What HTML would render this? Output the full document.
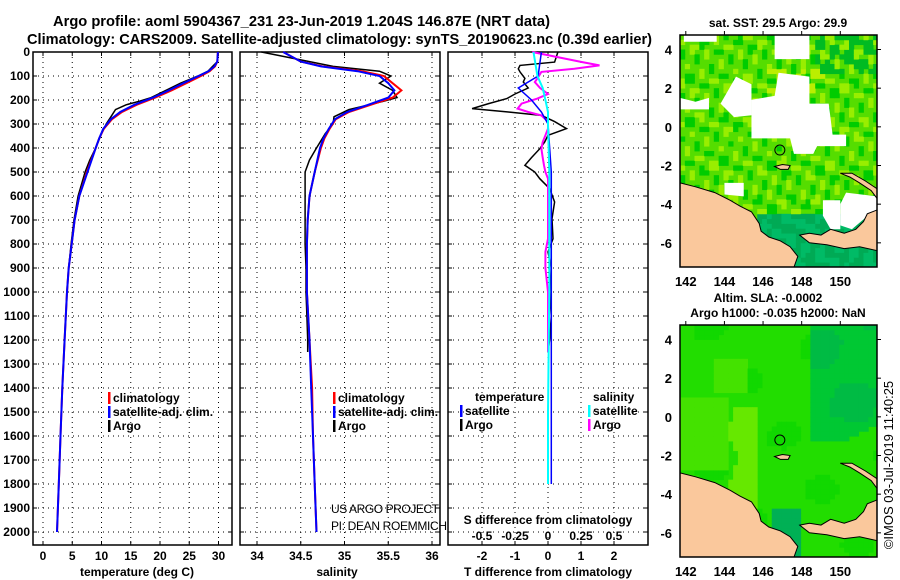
<!DOCTYPE html>
<html><head><meta charset="utf-8"><style>
body{margin:0;background:#fff;width:900px;height:580px;overflow:hidden}
svg{display:block;font-family:"Liberation Sans",sans-serif}
.t{font-weight:bold;font-size:12px}
.n{font-weight:normal;font-size:12px}
</style></head><body>
<svg id="s" width="900" height="580" viewBox="0 0 900 580">
<text x="53" y="26" class="t" style="font-size:15px" textLength="497" lengthAdjust="spacingAndGlyphs">Argo profile: aoml 5904367_231 23-Jun-2019 1.204S 146.87E (NRT data)</text>
<text x="27" y="44" class="t" style="font-size:15px" textLength="625" lengthAdjust="spacingAndGlyphs">Climatology: CARS2009. Satellite-adjusted climatology: synTS_20190623.nc (0.39d earlier)</text>
<g id="plots"></g>
<g id="maps"></g>
<text transform="translate(893,465) rotate(-90)" text-anchor="middle" style="font-size:13px">©IMOS 03-Jul-2019 11:40:25</text>
</svg>
<script>
// ---- data ----
const depthTicks=[0,100,200,300,400,500,600,700,800,900,1000,1100,1200,1300,1400,1500,1600,1700,1800,1900,2000];
const tempTicks=[0,5,10,15,20,25,30];
const salTicks=[34,34.5,35,35.5,36];
const tdiffTicks=[-2,-1,0,1,2];
const sdiffTicks=[-0.5,-0.25,0,0.25,0.5];
const sdiffTickLabels=["-0.5","-0.25","0","0.25","0.5"];
const argoDepth=[0,40,60,80,100,130,160,190,205,220,240,270,300,340,400,450,500,600,700,800,900,1000,1100,1200,1250];
const argoTemp=[29.9,29.8,29.0,28.2,26.5,23.5,21.0,18.5,16.5,14.2,12.4,11.6,10.8,10.0,9.0,8.0,7.2,6.0,5.3,4.8,4.4,4.1,3.9,3.7,3.6];
const argoSal=[34.05,34.6,34.87,35.4,35.53,35.4,35.55,35.6,35.45,35.28,35.05,34.88,34.87,34.78,34.68,34.6,34.55,34.55,34.55,34.55,34.56,34.56,34.57,34.58,34.58];
const climDepth=[0,40,60,80,100,130,160,190,220,250,280,320,360,400,500,600,700,800,900,1000,1200,1400,1600,1800,2000];
const climTemp=[29.9,29.8,29.4,28.5,27.0,24.5,22.0,19.2,16.0,13.5,11.8,10.4,9.6,9.0,7.5,6.2,5.4,4.9,4.4,4.1,3.7,3.3,3.0,2.7,2.4];
const satTemp=[29.9,29.8,29.3,28.3,26.6,24.0,21.5,18.8,15.6,13.2,11.6,10.3,9.6,9.0,7.6,6.2,5.4,4.9,4.4,4.1,3.7,3.3,3.0,2.7,2.4];
const climSal=[34.3,34.5,34.75,35.2,35.45,35.55,35.65,35.55,35.3,35.05,34.9,34.83,34.77,34.73,34.66,34.6,34.58,34.57,34.57,34.57,34.6,34.63,34.64,34.66,34.68];
const satSal=[34.3,34.5,34.73,35.15,35.4,35.5,35.57,35.5,35.27,35.03,34.89,34.82,34.76,34.72,34.66,34.6,34.58,34.57,34.57,34.57,34.6,34.62,34.64,34.66,34.68];
const dDepth=[0,42,56,70,83,110,125,150,175,194,215,236,250,264,290,319,347,375,403,440,472,500,528,569,625,694,778,833,900,1000,1100,1200,1250];
const tdArgo=[0.3,0.2,-0.85,-0.9,-0.85,-0.7,-0.75,-0.6,-1.0,-1.25,-1.8,-2.3,-1.2,-0.2,0.2,0.56,0.0,-0.1,-0.25,-0.5,-0.7,-0.4,-0.25,0.05,0.2,0.12,0.15,0.0,0.1,0.05,0.1,0.05,0.0];
const sdArgo=[-0.12,0.26,0.39,0.2,-0.05,-0.08,-0.1,-0.06,0.0,-0.08,-0.2,-0.23,-0.15,-0.05,0.0,0.0,-0.02,-0.04,-0.05,-0.04,-0.03,-0.02,0.0,0.0,0.0,0.0,0.0,-0.02,-0.02,0.0,0.0,0.0,0.0];
const sdDepthSat=[0,100,150,200,250,300,500,1000,1500,1800];
const tdSat=[-0.2,-0.3,-0.9,-0.5,-0.2,0.0,0.1,0.1,0.1,0.1];
const sdSat=[-0.11,-0.08,-0.04,-0.02,0.0,0.0,0.01,0.01,0.0,0.0];

// ---- scales ----
const Y0=52, PX=0.24, BOT=545;
const y=d=>Y0+d*PX;
const xT=v=>43+5.85*v;
const xS=v=>257+87.5*(v-34);
const xTD=v=>548+33*v;
const xSD=v=>548+132*v;
const NS="http://www.w3.org/2000/svg";
const plots=document.getElementById('plots');
function el(tag,attrs,parent){const e=document.createElementNS(NS,tag);for(const k in attrs)e.setAttribute(k,attrs[k]);(parent||plots).appendChild(e);return e;}
function line(xs,ds,fx,color,w,name){
  const p=el('polyline',{points:xs.map((v,i)=>fx(v).toFixed(1)+','+y(ds[i]).toFixed(1)).join(' '),fill:'none',stroke:color,'stroke-width':w});
  
  
}
function txt(x,yy,s,cls,anchor,name,style,parent){const t=el('text',{x:x,y:yy,'text-anchor':anchor||'start'},parent);t.setAttribute('class',cls||'t');if(style)t.setAttribute('style',style);t.textContent=s;
  
  
  return t;}
function panel(x0,x1,gridX,labels,fx,name){
  const g=el('g',{});
  
  
  gridX.forEach(v=>{const l=el('line',{x1:fx(v),x2:fx(v),y1:Y0,y2:BOT,stroke:'#000','stroke-width':1,'stroke-dasharray':'1,4'},g);
    
    
    el('line',{x1:fx(v),x2:fx(v),y1:Y0,y2:Y0+4,stroke:'#000'},g);el('line',{x1:fx(v),x2:fx(v),y1:BOT,y2:BOT-4,stroke:'#000'},g);});
  depthTicks.forEach(d=>{const l=el('line',{x1:x0,x2:x1,y1:y(d),y2:y(d),stroke:'#000','stroke-width':1,'stroke-dasharray':'1,4'},g);
    
    
    el('line',{x1:x0,x2:x0+4,y1:y(d),y2:y(d),stroke:'#000'},g);el('line',{x1:x1,x2:x1-4,y1:y(d),y2:y(d),stroke:'#000'},g);});
  const r=el('rect',{x:x0,y:Y0,width:x1-x0,height:BOT-Y0,fill:'none',stroke:'#000','stroke-width':1.5},g);
  
  
  if(labels)gridX.forEach((v,i)=>txt(fx(v),560,labels[i],'t','middle','x-tick-label'));
}
panel(33,232,tempTicks,tempTicks.map(String),xT,'temperature-panel');
panel(240,440,salTicks,salTicks.map(String),xS,'salinity-panel');
panel(448,648,tdiffTicks,tdiffTicks.map(String),xTD,'difference-panel');
depthTicks.forEach(d=>txt(30,y(d)+4,String(d),'t','end','depth-tick-label'));
txt(137,576,'temperature (deg C)','t','middle','temperature-axis-title');
txt(337,576,'salinity','t','middle','salinity-axis-title');
txt(548,576,'T difference from climatology','t','middle','t-diff-axis-title');
txt(548,524,'S difference from climatology','t','middle','s-diff-axis-title');
sdiffTicks.forEach((v,i)=>txt(xSD(v),540,sdiffTickLabels[i],'t','middle','s-diff-tick-label'));
line(argoTemp,argoDepth,xT,'#000',1.5,'argo-temperature-line');
line(climTemp,climDepth,xT,'#f00',2,'clim-temperature-line');
line(satTemp,climDepth,xT,'#00f',2,'sat-temperature-line');
line(argoSal,argoDepth,xS,'#000',1.5,'argo-salinity-line');
line(climSal,climDepth,xS,'#f00',2,'clim-salinity-line');
line(satSal,climDepth,xS,'#00f',2,'sat-salinity-line');
line(tdArgo,dDepth,xTD,'#000',1.5,'argo-t-diff-line');
line(sdArgo,dDepth,xSD,'#f0f',2,'argo-s-diff-line');
line(tdSat,sdDepthSat,xTD,'#00f',1.5,'sat-t-diff-line');
line(sdSat,sdDepthSat,xSD,'#0ff',2,'sat-s-diff-line');
function leg(x,yy,color,label,name){const r=el('rect',{x:x,y:yy-10,width:2.5,height:12,fill:color});
  
  
  txt(x+5,yy,label,'t','start',name);}
leg(108,402,'#f00','climatology','legend-climatology');
leg(108,416,'#00f','satellite-adj. clim.','legend-satellite-adj');
leg(108,430,'#000','Argo','legend-argo');
leg(333,402,'#f00','climatology','legend-climatology-2');
leg(333,416,'#00f','satellite-adj. clim.','legend-satellite-adj-2');
leg(333,430,'#000','Argo','legend-argo-2');
txt(475,401,'temperature','t','start','legend-temperature-heading');
txt(593,401,'salinity','t','start','legend-salinity-heading');
leg(460,415,'#00f','satellite','legend-t-satellite');
leg(460,429,'#000','Argo','legend-t-argo');
leg(588,415,'#0ff','satellite','legend-s-satellite');
leg(588,429,'#f0f','Argo','legend-s-argo');
txt(331,513,'US ARGO PROJECT','n','start','credit-project').setAttribute('textLength','108');
txt(331,530,'PI: DEAN ROEMMICH','n','start','credit-pi').setAttribute('textLength','116');

// ---- maps ----
const lonTicks=[142,144,146,148,150];
const latTicks=[4,2,0,-2,-4,-6];
const coastPNG=[[141.7,-2.9],[142.5,-3.1],[143.5,-3.4],[144.3,-3.8],[144.8,-4.1],[145.4,-4.4],[145.8,-5.0],[145.9,-5.4],[146.3,-5.7],[146.9,-5.9],[147.4,-6.2],[147.8,-6.7],[147.6,-7.25],[141.7,-7.25]];
const coastNB=[[147.9,-5.6],[148.4,-5.5],[149.0,-5.6],[149.5,-5.3],[150.2,-5.5],[150.8,-5.3],[151.2,-4.9],[151.4,-4.5],[151.9,-4.3],[151.9,-6.4],[151,-6.2],[150.2,-6.3],[149.3,-6.1],[148.4,-6.0]];
const coastNI=[[150.0,-2.4],[150.5,-2.6],[151.0,-2.9],[151.6,-3.3],[151.9,-3.7],[151.9,-3.2],[151.3,-2.8],[150.6,-2.4]];
const coastManus=[[146.6,-2.05],[147.0,-1.95],[147.4,-2.0],[147.3,-2.2],[146.9,-2.2]];
const argoLon=146.87, argoLat=-1.2;
const maps=document.getElementById('maps');
function mapPanel(top,kind,name){
  const L=141.7,R=151.9,T=4.75,B=-7.25,x0=680,x1=877,y1=top+232;
  const mx=v=>x0+(v-L)*(x1-x0)/(R-L), my=v=>top+(T-v)*(y1-top)/(T-B);
  const g=el('g',{},maps);
  
  
  const cp=el('clipPath',{id:'cp'+kind},g);el('rect',{x:x0,y:top,width:x1-x0,height:y1-top},cp);
  const f=el('g',{'clip-path':'url(#cp'+kind+')'},g);
  const base=kind==='sst'?'#55dd00':'#22dd00';
  el('rect',{x:x0,y:top,width:x1-x0,height:y1-top,fill:base},f);
  const st=0.25, cw=(x1-x0)*st/(R-L)+0.4, chh=(y1-top)*st/(T-B)+0.4;
  for(let lo=L;lo<R;lo+=st){for(let la=B;la<T;la+=st){
    let c=null;
    if(kind==='sst'){
      const s=Math.sin(lo*3.1+la*5.7)+Math.cos(lo*7.3-la*2.9);
      c=s>1?'#00cc00':(s<-1?'#99ee00':null);
      if(la<-4.5&&lo>145.5)c=(s>0?'#00bb66':'#00aa55');
      if(la>2.5&&lo>148.5&&s>0)c='#00bb22';
      if(la>1.5&&la<3&&lo>146&&lo<149&&s<0)c='#bbee00';
    }else{
      const s=Math.sin(lo*1.3+la*0.9)+Math.cos(lo*0.8-la*1.7);
      if(lo>148.3&&la>-1+0.5*Math.sin(lo))c=(s>0.5?'#00bb44':'#00c833');
      else if(lo>144.3+0.2*Math.sin(la*2)&&lo<145.5&&la<0.5)c='#66e800';
      else if(lo>146.2&&lo<147.8&&la<-4.8)c='#00b055';
      else if(lo>143.4&&lo<145.2&&la>1&&la<2.9)c='#44e200';
      else if(lo<144&&la>-2.8&&la<1)c='#44e200';
      else if(s>1.2)c='#11d800';
    }
    if(c)el('rect',{x:mx(lo),y:my(la+st),width:cw,height:chh,fill:c},f);
  }}
  if(kind==='sst'){
    const whites=[[[145.4,-0.6],[145.4,1.4],[146.6,1.6],[146.8,2.8],[148.4,2.6],[148.4,1.2],[149.4,1.2],[149.6,-0.4],[150.3,-0.4],[150.3,-1.0],[148.8,-1.0],[148.6,-1.4],[147.6,-1.4],[147.4,-0.6]],
      [[141.9,4.75],[141.9,4.4],[143.6,4.4],[143.6,4.75]],[[146.6,4.75],[146.6,3.5],[148.4,3.5],[148.4,4.75]],
      [[141.7,1.5],[142.5,1.3],[143.2,1.5],[143.2,0.9],[141.7,0.9]],[[143.8,1.2],[144.6,2.6],[145.4,2.2],[145.4,0.6],[144.5,0.5]],
      [[150.3,-3.4],[151.9,-3.6],[151.9,-4.3],[151.3,-4.7],[150.6,-5.3],[150,-5.1],[150,-4.0]],
      [[149.1,-3.8],[150,-3.8],[150,-5.3],[149.5,-5.3],[149.1,-4.6]],
      [[144,-2.9],[145,-2.9],[145,-3.6],[144,-3.5]]];
    whites.forEach(w=>{const p=el('polygon',{points:w.map(q=>mx(q[0])+','+my(q[1])).join(' '),fill:'#fff'},f);
      
      });
  }
  [coastPNG,coastNB,coastNI,coastManus].forEach(c=>{const p=el('polygon',{points:c.map(q=>mx(q[0]).toFixed(1)+','+my(q[1]).toFixed(1)).join(' '),fill:'#fac89c',stroke:'#000','stroke-width':1},f);
    
    });
  const ci=el('circle',{cx:mx(argoLon),cy:my(argoLat),r:5,fill:'none',stroke:'#000','stroke-width':1},g);
  
  
  el('rect',{x:x0,y:top,width:x1-x0,height:y1-top,fill:'none',stroke:'#000','stroke-width':1.5},g);
  lonTicks.forEach(v=>{el('line',{x1:mx(v),x2:mx(v),y1:top,y2:top-4,stroke:'#000'},g);txt(mx(v),y1+19,String(v),'t','middle','lon-tick-label','font-size:13px',g);});
  latTicks.forEach(v=>{el('line',{x1:x1,x2:x1+4,y1:my(v),y2:my(v),stroke:'#000'},g);txt(x0-8,my(v)+5,String(v),'t','end','lat-tick-label','font-size:13px',g);});
}
mapPanel(35,'sst','sst-map');
mapPanel(325,'sla','sla-map');
txt(778,27,'sat. SST: 29.5 Argo: 29.9','t','middle','sst-map-title');
txt(768,302,'Altim. SLA: -0.0002','t','middle','sla-map-title-1');
txt(778,317,'Argo h1000: -0.035 h2000: NaN','t','middle','sla-map-title-2');
</script>
</body></html>
